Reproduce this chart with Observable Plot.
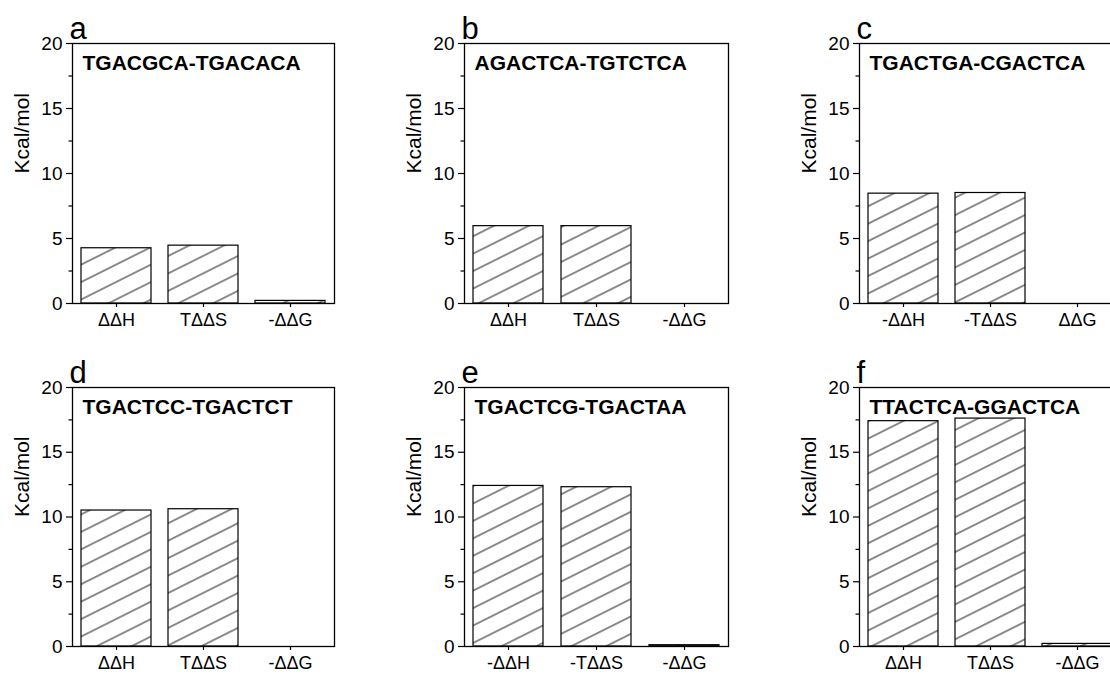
<!DOCTYPE html>
<html>
<head>
<meta charset="utf-8">
<script src="https://cdn.jsdelivr.net/npm/d3@7"></script>
<script src="https://cdn.jsdelivr.net/npm/@observablehq/plot@0.6"></script>
<style>
  html, body { margin: 0; padding: 0; background: #fff; overflow: hidden; }
  #fig { position: relative; width: 1110px; height: 674px; overflow: hidden; background: #fff; }
  #fig > svg.panel { position: absolute; }
</style>
</head>
<body>
<svg width="0" height="0" style="position:absolute">
  <defs>
    <pattern id="hatch" patternUnits="userSpaceOnUse" width="15.6" height="15.6" patternTransform="rotate(-26.57)">
      <rect x="0" y="0" width="15.6" height="15.6" fill="#ffffff"></rect>
      <path d="M-1,7.8L16.6,7.8" stroke="#000" stroke-width="0.9" fill="none"></path>
    </pattern>
  </defs>
</svg>
<div id="fig"></div>
<script>
// ---------- data ----------
const categoriesStd = ["ΔΔH", "TΔΔS", "-ΔΔG"];
const categoriesC = ["-ΔΔH", "-TΔΔS", "ΔΔG"];
const categoriesE = ["-ΔΔH", "-TΔΔS", "-ΔΔG"];
const panelLetters = ["a", "b", "c", "d", "e", "f"];
const pairTitles = ["TGACGCA-TGACACA", "AGACTCA-TGTCTCA", "TGACTGA-CGACTCA",
                    "TGACTCC-TGACTCT", "TGACTCG-TGACTAA", "TTACTCA-GGACTCA"];
const valuesA = [4.25, 4.45, 0.2];
const valuesB = [5.95, 5.95, 0];
const valuesC = [8.45, 8.5, 0];
const valuesD = [10.5, 10.6, 0];
const valuesE = [12.4, 12.3, 0.1];
const valuesF = [17.4, 17.6, 0.2];
const yTicks = [0, 5, 10, 15, 20];
const yMinorTicks = [2.5, 7.5, 12.5, 17.5];
const yLabel = "Kcal/mol";

const panelCategories = [categoriesStd, categoriesStd, categoriesC, categoriesStd, categoriesE, categoriesStd];
const panelValues = [valuesA, valuesB, valuesC, valuesD, valuesE, valuesF];

// ---------- layout ----------
const cols = [
  {left: 0,   width: 370, ml: 72,  mr: 36},
  {left: 370, width: 370, ml: 94,  mr: 12},
  {left: 740, width: 390, ml: 119, mr: 10}
];
const rows = [
  {top: 0,   height: 337, mt: 43, mb: 34, xPad: 6},
  {top: 337, height: 337, mt: 50, mb: 28, xPad: 6}
];
const font = "'Liberation Sans', Arial, Helvetica, sans-serif";
const fig = document.getElementById("fig");

panelLetters.forEach((letter, i) => {
  const col = cols[i % 3], row = rows[Math.floor(i / 3)];
  const table = panelCategories[i].map((c, j) => ({category: c, value: panelValues[i][j]}));
  const chart = Plot.plot({
    width: col.width,
    height: row.height,
    marginLeft: col.ml,
    marginRight: col.mr,
    marginTop: row.mt,
    marginBottom: row.mb,
    style: {fontFamily: font, fontSize: "18px", color: "#000", background: "transparent", maxWidth: "none", overflow: "visible"},
    x: {domain: panelCategories[i], paddingInner: 0.2, paddingOuter: 0.1, label: null},
    y: {domain: [0, 20], label: null},
    marks: [
      Plot.barY(table, {x: "category", y: "value", fill: "url(#hatch)", stroke: "#000", strokeWidth: 1.2}),
      Plot.frame({stroke: "#000", strokeWidth: 1.3}),
      Plot.axisY({ticks: yTicks, tickSize: 6, tickPadding: 4, label: null, fontSize: 19, strokeWidth: 1.2}),
      Plot.axisY({ticks: yMinorTicks, tickSize: 3.5, text: null, label: null, strokeWidth: 1.2}),
      Plot.axisX({tickSize: 4, tickPadding: row.xPad, label: null, fontSize: 18, strokeWidth: 1.2}),
      Plot.text([yLabel], {text: d => d, frameAnchor: "left", dx: -50, rotate: -90, fontSize: 21}),
      Plot.text([letter], {text: d => d, frameAnchor: "top-left", dx: -3, dy: -5, lineAnchor: "bottom", textAnchor: "start", fontSize: 31}),
      Plot.text([pairTitles[i]], {text: d => d, frameAnchor: "top-left", dx: 10, dy: 12, lineAnchor: "top", textAnchor: "start", fontSize: 21, fontWeight: "bold"})
    ]
  });
  chart.classList.add("panel");
  chart.style.left = col.left + "px";
  chart.style.top = row.top + "px";
  fig.appendChild(chart);
});
</script>
</body>
</html>
